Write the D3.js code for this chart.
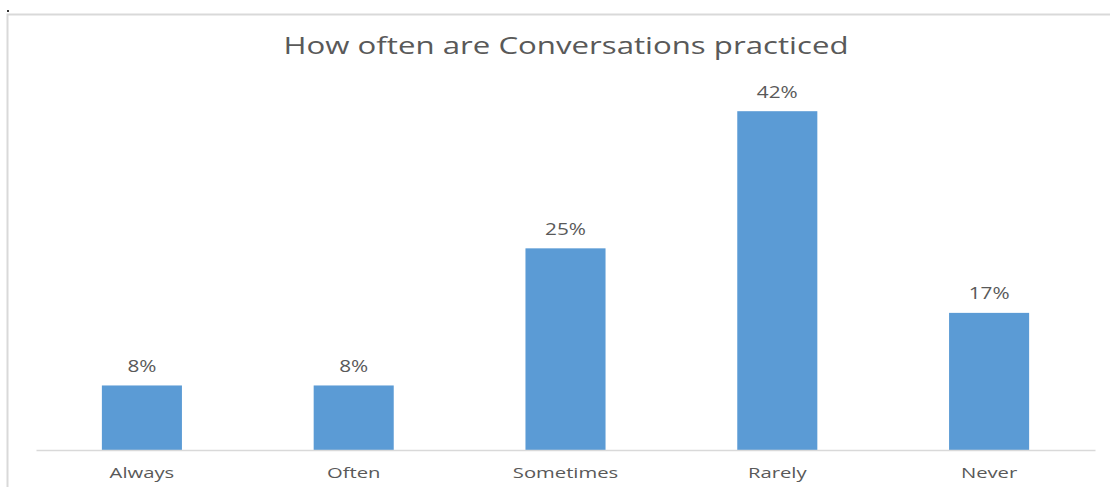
<!DOCTYPE html>
<html>
<head>
<meta charset="utf-8">
<script src="https://cdn.jsdelivr.net/npm/d3@7"></script>
<style>
  html, body { margin: 0; padding: 0; background: #fff; }
  svg { display: block; }
  text { font-family: "Open Sans", "DejaVu Sans", sans-serif; fill: #595959; }
</style>
</head>
<body>
<svg id="chart" width="1110" height="487"></svg>
<script>
const categories = ["Always", "Often", "Sometimes", "Rarely", "Never"];
const values = [8, 8, 25, 42, 17];
const titleText = "How often are Conversations practiced";

const W = 1110, H = 487;
const svg = d3.select("#chart");

// text in this chart is drawn slightly widened
const titleStretch = 1.30;
const labelStretch = 1.35;

// chart frame (runs past the right and bottom edges)
svg.append("rect")
  .attr("x", 7.5).attr("y", 14.5)
  .attr("width", W + 20).attr("height", H + 20)
  .attr("fill", "none").attr("stroke", "#d9d9d9").attr("stroke-width", 2);

svg.append("rect").attr("x", 7).attr("y", 10).attr("width", 2).attr("height", 2).attr("fill", "#333");

const plot = { left: 36, right: 1095, bottom: 450 };

const x = d3.scaleBand()
  .domain(categories)
  .range([plot.left, plot.right])
  .paddingInner(0.622)
  .paddingOuter(0.311);

const y = d3.scaleLinear()
  .domain([0, 45])
  .range([plot.bottom, plot.bottom - 363]);

svg.append("text")
  .attr("transform", `translate(566,54) scale(${titleStretch},1)`)
  .attr("text-anchor", "middle")
  .style("font-size", "24px")
  .text(titleText);

svg.append("g").selectAll("rect")
  .data(values)
  .join("rect")
  .attr("x", (d, i) => x(categories[i]))
  .attr("y", d => y(d))
  .attr("width", x.bandwidth())
  .attr("height", d => y(0) - y(d))
  .attr("fill", "#5b9bd5");

svg.append("g").selectAll("text")
  .data(values)
  .join("text")
  .attr("transform", (d, i) =>
    `translate(${x(categories[i]) + x.bandwidth() / 2},${y(d) - 13.5}) scale(${labelStretch},1)`)
  .attr("text-anchor", "middle")
  .style("font-size", "15.4px")
  .text(d => d + "%");

const xAxis = svg.append("g")
  .attr("transform", `translate(0,${plot.bottom})`)
  .call(d3.axisBottom(x).tickSize(0).tickPadding(17));
xAxis.select(".domain").attr("stroke", "#d9d9d9").attr("stroke-width", 1.5);
xAxis.selectAll(".tick text")
  .attr("transform", `scale(${labelStretch},1)`)
  .style("font-size", "15px")
  .style("font-family", "\"Open Sans\", \"DejaVu Sans\", sans-serif")
  .attr("fill", "#595959");
</script>
</body>
</html>
